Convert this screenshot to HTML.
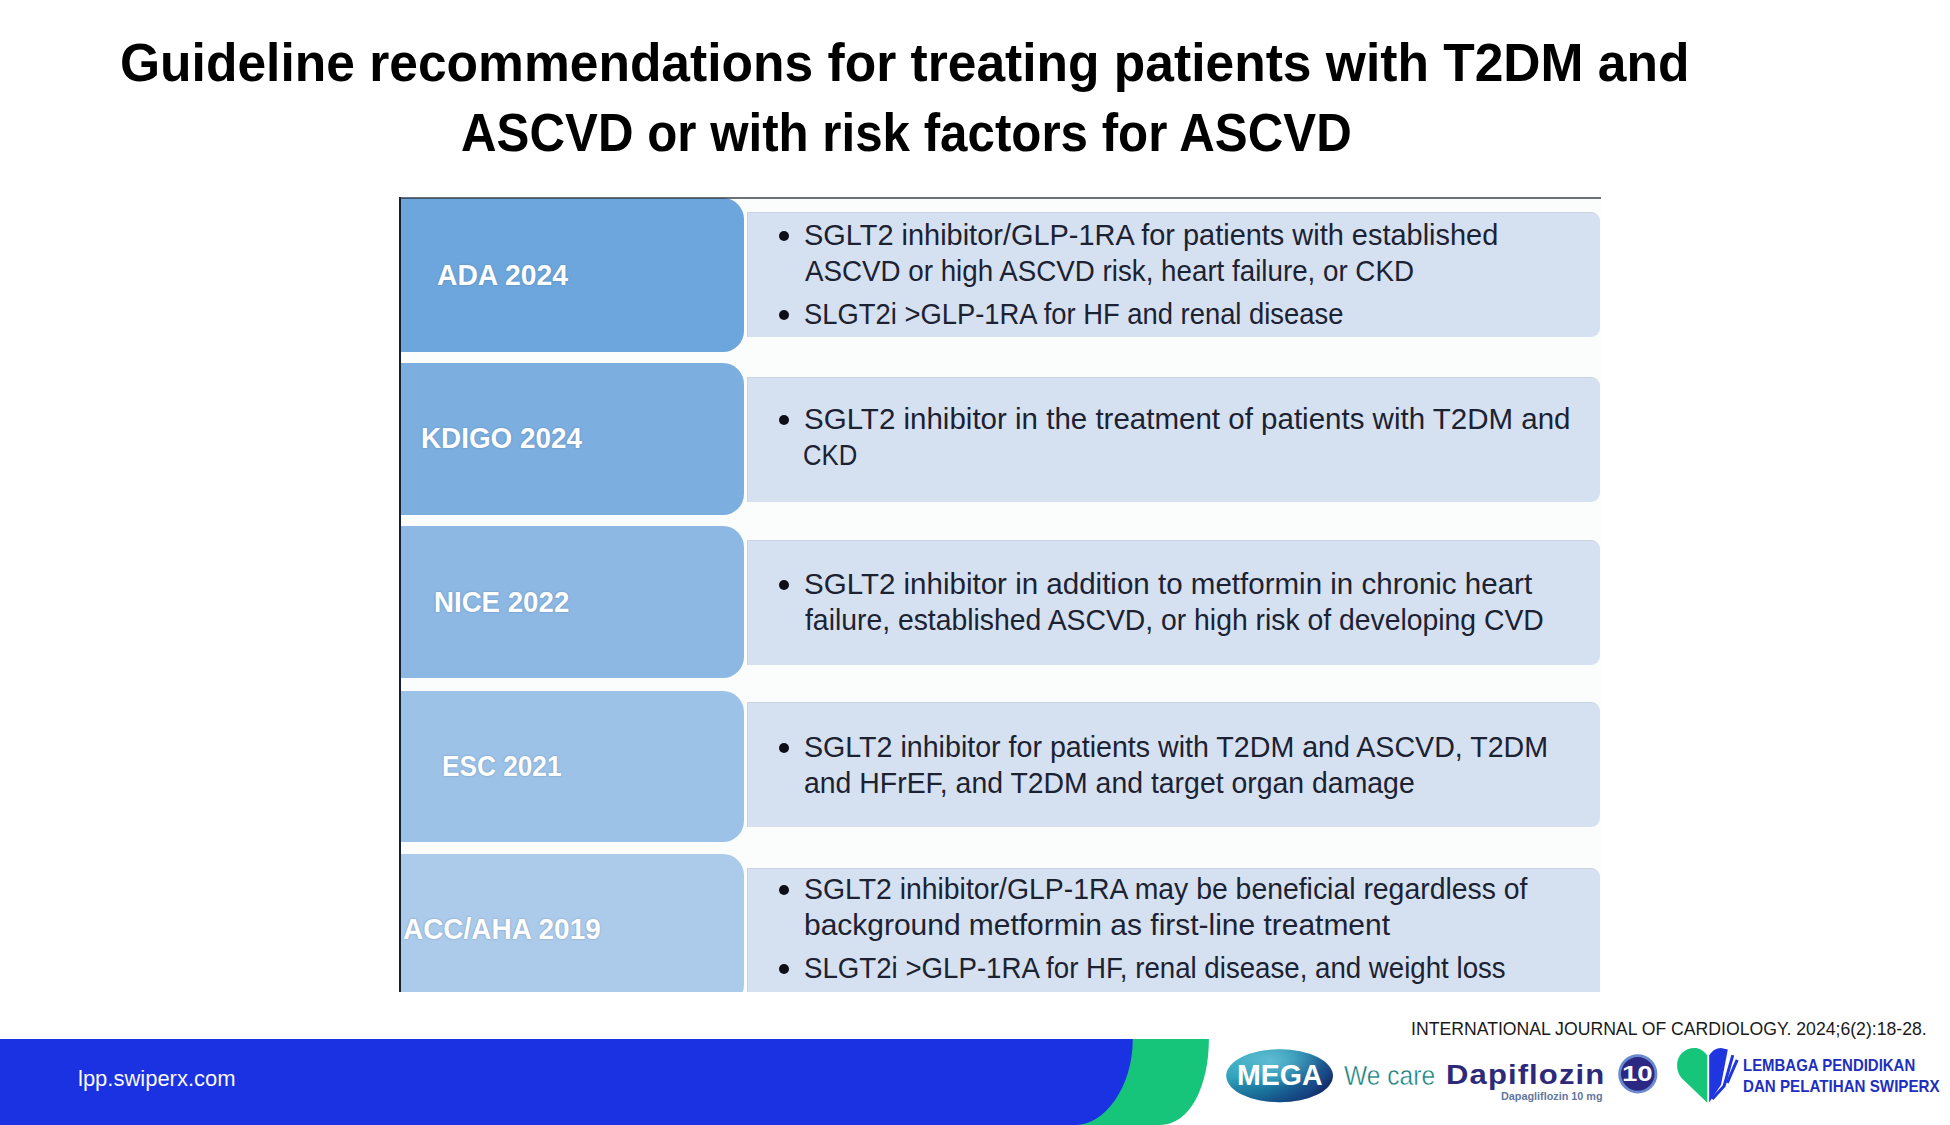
<!DOCTYPE html>
<html><head><meta charset="utf-8">
<style>
html,body{margin:0;padding:0;}
body{width:1950px;height:1125px;position:relative;overflow:hidden;background:#fff;font-family:"Liberation Sans",sans-serif;}
.ln{position:absolute;white-space:nowrap;transform-origin:0 0;line-height:1;}
.title{font-weight:700;color:#000;}
.blk{position:absolute;left:1px;width:344px;height:152px;border-radius:0 21px 21px 0;}
.box{position:absolute;left:348px;width:853px;border-radius:0 9px 9px 0;height:125px;background:#d5e1f0;box-shadow:inset 1px 1px 0 #cbd5e2;}
.lab{font-weight:700;color:#fff;text-shadow:0 0 2px rgba(60,90,140,.5);}
.tx{color:#1c2232;}
.cite{color:#1a1a1a;}
.url{color:#fff;-webkit-text-stroke:0.1px #1b32e3;}
.wecare{color:#177f7b;-webkit-text-stroke:0.45px #fff;}
.dapi{color:#2e2a7a;font-weight:700;}
.dapisub{color:#6478a0;font-weight:700;}
.lem{color:#1e2fc0;font-weight:700;}
.mega{color:#fff;font-weight:700;}
.ten{color:#fff;font-weight:700;}
.bul{position:absolute;width:10px;height:10px;border-radius:50%;background:#0c0f18;}
</style></head><body>

<svg style="position:absolute;left:0;top:0" width="1950" height="1125" viewBox="0 0 1950 1125">
<defs>
<linearGradient id="megag" x1="0" y1="0.3" x2="1" y2="0.7">
<stop offset="0" stop-color="#34a9bf"/><stop offset="0.5" stop-color="#1f86aa"/><stop offset="0.85" stop-color="#1a4a88"/><stop offset="1" stop-color="#14205e"/>
</linearGradient>
<radialGradient id="megah" cx="0.42" cy="0.22" r="0.5">
<stop offset="0" stop-color="#8fe0ee" stop-opacity="0.55"/><stop offset="1" stop-color="#8fe0ee" stop-opacity="0"/>
</radialGradient>
<linearGradient id="megab" x1="0" y1="0" x2="0" y2="1">
<stop offset="0.55" stop-color="#0a2a6a" stop-opacity="0"/><stop offset="1" stop-color="#0a2a6a" stop-opacity="0.45"/>
</linearGradient>
</defs>
<path d="M0,1039 H1208.9 C1208.9,1086 1190,1125 1160,1125 L1160,1126 H0 Z" fill="#16c47a"/>
<path d="M0,1039 H1132.8 C1132.8,1088 1104,1125 1076,1125 L1076,1126 H0 Z" fill="#1b32e3"/>
<ellipse cx="1279.6" cy="1075.8" rx="53.4" ry="26.5" fill="url(#megag)"/><ellipse cx="1279.6" cy="1075.8" rx="53.4" ry="26.5" fill="url(#megah)"/><ellipse cx="1279.6" cy="1075.8" rx="53.4" ry="26.5" fill="url(#megab)"/>
<circle cx="1637.8" cy="1073.9" r="19.6" fill="#6a8ad2"/>
<circle cx="1637.8" cy="1073.9" r="16.8" fill="#2b2883"/>
<path d="M1707.3,1055.6 C1703,1050 1699,1048.1 1694.9,1048.1 C1684,1048.1 1677.1,1056 1677.1,1064.9 C1677.1,1071 1679,1075 1682,1078.5 L1707.3,1102.8 Z" fill="#16c47a"/>
<path d="M1709.2,1055.6 C1712,1051 1716,1048.1 1721,1048.1 L1727.8,1049.5 L1721,1084.8 L1709.2,1102.5 Z" fill="#1f35e0"/>
<path d="M1732.8,1055.2 L1724.1,1086 L1712.3,1099.1" fill="none" stroke="#1f35e0" stroke-width="3"/>
<path d="M1737.2,1059.9 L1727.2,1082.9" fill="none" stroke="#1f35e0" stroke-width="3"/>
</svg>

<div class="ln title" id="t1" style="left:120.10px;top:36.34px;font-size:53.6px;transform:scaleX(0.9618);">Guideline recommendations for treating patients with T2DM and</div>
<div class="ln title" id="t2" style="left:461.10px;top:106.34px;font-size:53.6px;transform:scaleX(0.9194);">ASCVD or with risk factors for ASCVD</div>
<div class="ln cite" id="cite" style="left:1411.14px;top:1018.85px;font-size:19.0px;transform:scaleX(0.9286);">INTERNATIONAL JOURNAL OF CARDIOLOGY. 2024;6(2):18-28.</div>
<div class="ln url" id="url" style="left:77.96px;top:1067.56px;font-size:21.7px;transform:scaleX(1.0133);">lpp.swiperx.com</div>
<div class="ln wecare" id="wecare" style="left:1344.38px;top:1062.34px;font-size:27.6px;transform:scaleX(0.8911);">We care</div>
<div class="ln dapi" id="dapi" style="left:1445.87px;top:1061.10px;font-size:28.0px;transform:scaleX(1.1081);letter-spacing:1px;">Dapiflozin</div>
<div class="ln dapisub" id="dapisub" style="left:1501.48px;top:1092.13px;font-size:10.2px;transform:scaleX(1.0614);">Dapagliflozin 10 mg</div>
<div class="ln lem" id="lem1" style="left:1743.21px;top:1057.71px;font-size:16.7px;transform:scaleX(0.8959);">LEMBAGA PENDIDIKAN</div>
<div class="ln lem" id="lem2" style="left:1743.18px;top:1078.71px;font-size:16.7px;transform:scaleX(0.9075);">DAN PELATIHAN SWIPERX</div>
<div class="ln mega" id="mega" style="left:1236.50px;top:1061.15px;font-size:29.0px;transform:scaleX(0.9822);">MEGA</div>
<div class="ln ten" id="ten" style="left:1621.75px;top:1062.64px;font-size:22.3px;transform:scaleX(1.2375);">10</div>

<div id="pic" style="position:absolute;left:399px;top:197px;width:1202px;height:795px;overflow:hidden;background:#fbfdfd;">
<div class="blk" style="top:1.0px;height:153.7px;background:#6da6dc;"></div>
<div class="box" style="top:15.2px;"></div>
<div class="blk" style="top:165.7px;height:152.2px;background:#7caedf;"></div>
<div class="box" style="top:180.1px;"></div>
<div class="blk" style="top:329.2px;height:151.9px;background:#8cb8e3;"></div>
<div class="box" style="top:343.3px;"></div>
<div class="blk" style="top:493.5px;height:151.9px;background:#9cc2e7;"></div>
<div class="box" style="top:505.4px;"></div>
<div class="blk" style="top:657.1px;height:152px;background:#accbea;"></div>
<div class="box" style="top:670.8px;height:140px;"></div>
<div class="ln lab" id="lab0" style="left:38.09px;top:63.95px;font-size:29.0px;transform:scaleX(0.9755);">ADA 2024</div>
<div class="ln lab" id="lab1" style="left:22.14px;top:227.05px;font-size:29.0px;transform:scaleX(0.9603);">KDIGO 2024</div>
<div class="ln lab" id="lab2" style="left:35.16px;top:390.55px;font-size:29.0px;transform:scaleX(0.9535);">NICE 2022</div>
<div class="ln lab" id="lab3" style="left:43.20px;top:555.05px;font-size:29.0px;transform:scaleX(0.9040);">ESC 2021</div>
<div class="ln lab" id="lab4" style="left:4.05px;top:718.25px;font-size:29.0px;transform:scaleX(0.9636);">ACC/AHA 2019</div>
<div class="ln tx" id="r0l0" style="left:405.04px;top:22.73px;font-size:29.5px;transform:scaleX(0.9808);">SGLT2 inhibitor/GLP-1RA for patients with established</div>
<div class="ln tx" id="r0l1" style="left:406.03px;top:58.53px;font-size:29.5px;transform:scaleX(0.9403);">ASCVD or high ASCVD risk, heart failure, or CKD</div>
<div class="ln tx" id="r0l2" style="left:405.16px;top:101.73px;font-size:29.5px;transform:scaleX(0.9280);">SLGT2i &gt;GLP-1RA for HF and renal disease</div>
<div class="ln tx" id="r1l0" style="left:405.00px;top:206.73px;font-size:29.5px;transform:scaleX(1.0003);">SGLT2 inhibitor in the treatment of patients with T2DM and</div>
<div class="ln tx" id="r1l1" style="left:404.29px;top:242.53px;font-size:29.5px;transform:scaleX(0.8702);">CKD</div>
<div class="ln tx" id="r2l0" style="left:405.00px;top:371.72px;font-size:29.5px;transform:scaleX(1.0009);">SGLT2 inhibitor in addition to metformin in chronic heart</div>
<div class="ln tx" id="r2l1" style="left:406.02px;top:407.52px;font-size:29.5px;transform:scaleX(0.9607);">failure, established ASCVD, or high risk of developing CVD</div>
<div class="ln tx" id="r3l0" style="left:405.07px;top:534.72px;font-size:29.5px;transform:scaleX(0.9697);">SGLT2 inhibitor for patients with T2DM and ASCVD, T2DM</div>
<div class="ln tx" id="r3l1" style="left:405.06px;top:570.52px;font-size:29.5px;transform:scaleX(0.9632);">and HFrEF, and T2DM and target organ damage</div>
<div class="ln tx" id="r4l0" style="left:405.09px;top:677.22px;font-size:29.5px;transform:scaleX(0.9619);">SGLT2 inhibitor/GLP-1RA may be beneficial regardless of</div>
<div class="ln tx" id="r4l1" style="left:404.96px;top:713.02px;font-size:29.5px;transform:scaleX(1.0154);">background metformin as first-line treatment</div>
<div class="ln tx" id="r4l2" style="left:405.14px;top:756.22px;font-size:29.5px;transform:scaleX(0.9374);">SLGT2i &gt;GLP-1RA for HF, renal disease, and weight loss</div>
<div class="bul" style="left:380px;top:33.5px;"></div>
<div class="bul" style="left:380px;top:112.5px;"></div>
<div class="bul" style="left:380px;top:217.5px;"></div>
<div class="bul" style="left:380px;top:382.5px;"></div>
<div class="bul" style="left:380px;top:545.5px;"></div>
<div class="bul" style="left:380px;top:688.0px;"></div>
<div class="bul" style="left:380px;top:767.0px;"></div>

<div style="position:absolute;left:0;top:0;width:2px;height:795px;background:#152030;"></div>
<div style="position:absolute;left:0;top:0;width:1202px;height:2px;background:rgba(40,45,55,.68);"></div>
</div>
</body></html>
